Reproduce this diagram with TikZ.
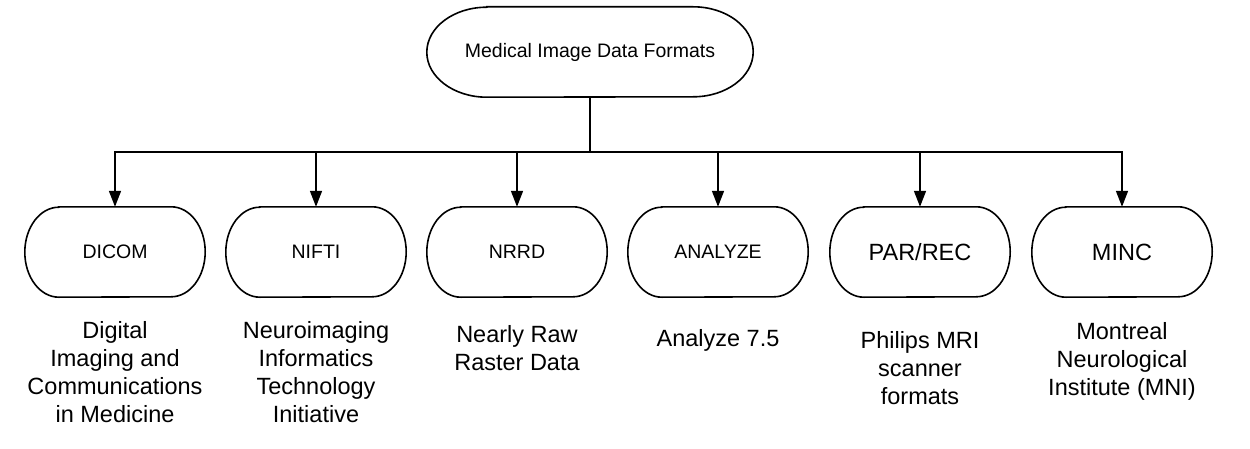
\documentclass[tikz,border=0pt]{standalone}
\usepackage{fontspec}
\setmainfont{Liberation Sans}
\usetikzlibrary{arrows.meta,positioning}

\tikzset{
  oval/.style 2 args={append after command={\pgfextra{
    \draw[line width=1.6pt] ([xshift=#1]\tikzlastnode.north west) -- ([xshift=-#1]\tikzlastnode.north east)
      arc[start angle=90, end angle=-90, x radius=#1, y radius=#2]
      -- ([xshift=#1]\tikzlastnode.south west)
      arc[start angle=270, end angle=90, x radius=#1, y radius=#2] -- cycle;}}},
  format/.style={oval={34pt}{45pt}, minimum width=180pt,
    minimum height=90pt, inner sep=0pt, font=\fontsize{19.5}{23}\selectfont},
  bigformat/.style={format, font=\fontsize{23.5}{28}\selectfont},
  desc/.style={align=center, inner sep=0pt, font=\fontsize{23.5}{28}\selectfont},
  link/.style={line width=1.6pt},
  arr/.style={link, -{Triangle[length=16pt,width=12pt]}}
}

\begin{document}
\begin{tikzpicture}[x=1pt,y=1pt]
    \useasboundingbox (0,0) rectangle (1250,448);
    \node[oval={60pt}{45pt}, minimum width=326pt, minimum height=90pt, inner sep=0pt,
      font=\fontsize{19.5}{23}\selectfont] (root) at (590,396) {Medical Image Data Formats};
    %%%%%%%%%%%%%%%%%%%%%%%%%%%%%%%%%%
    \node[format] (dicom) at (115,196) {DICOM};
    \node[format] (nifti) at (316,196) {NIFTI};
    \node[format] (nrrd) at (517,196) {NRRD};
    \node[format] (analyze) at (718,196) {ANALYZE};
    \node[bigformat] (parrec) at (920,196) {PAR/REC};
    \node[bigformat] (minc) at (1122,196) {MINC};
    %%%%%%%%%%%%%%%%%%%%%%%%%%%%%%%%%%
    \node[desc, below=24pt of dicom] (dicomtxt) {Digital\\Imaging and\\Communications\\in Medicine};
    \node[desc, below=24pt of nifti] (niftitxt) {Neuroimaging\\Informatics\\Technology\\Initiative};
    \node[desc, below=28pt of nrrd] (nrrdtxt) {Nearly Raw\\Raster Data};
    \node[desc, below=32pt of analyze] (analyzetxt) {Analyze 7.5};
    \node[desc, below=34pt of parrec] (parrectxt) {Philips MRI\\scanner\\formats};
    \node[desc, below=25pt of minc] (minctxt) {Montreal\\Neurological\\Institute (MNI)};
    %%%%%%%%%%%%%%%%%%%%%%%%%%%%%%%%%%
    \coordinate (hub) at (590,296); % bar
    \draw[link] (root.south) -- (hub);
    \draw[link, line cap=rect] (hub -| dicom) -- (hub -| minc);
    \foreach \n in {dicom,nifti,nrrd,analyze,parrec,minc}
        \draw[arr] (hub -| \n.north) -- (\n.north);
\end{tikzpicture}
\end{document}
